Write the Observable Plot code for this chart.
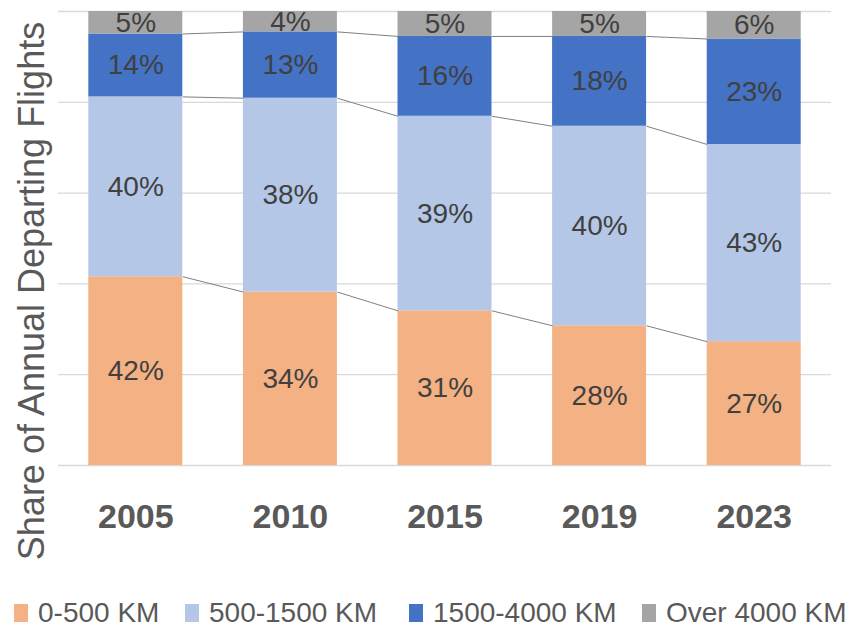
<!DOCTYPE html>
<html>
<head>
<meta charset="utf-8">
<script src="https://cdn.jsdelivr.net/npm/d3@7"></script>
<script src="https://cdn.jsdelivr.net/npm/@observablehq/plot@0.6"></script>
<style>
  body { margin: 0; background: #fff; font-family: "Liberation Sans", Arial, sans-serif; }
  #wrap { position: relative; width: 849px; height: 629px; overflow: hidden; }
  #ylabel { position: absolute; left: 32px; top: 291px; transform: translate(-50%, -50%) rotate(-90deg);
            white-space: nowrap; font-size: 36px; color: #595959; }
  #legend { position: absolute; top: 597px; left: 0; width: 849px; height: 30px; }
  .item { position: absolute; top: 0; display: flex; align-items: center; font-size: 28px; color: #595959; white-space: nowrap; }
  .sw { width: 14px; height: 18px; margin-right: 10px; }
</style>
</head>
<body>
<div id="wrap">
  <div id="chart"></div>
  <div id="ylabel">Share of Annual Departing Flights</div>
  <div id="legend"></div>
</div>
<script>
const years = ["2005", "2010", "2015", "2019", "2023"];
const series = ["0-500 KM", "500-1500 KM", "1500-4000 KM", "Over 4000 KM"];
const v0_500 = [42, 34, 31, 28, 27];
const v500_1500 = [40, 38, 39, 40, 43];
const v1500_4000 = [14, 13, 16, 18, 23];
const vOver4000 = [5, 4, 5, 5, 6];
const colors = ["#F4B183", "#B4C7E7", "#4472C4", "#A5A5A5"];
const legendLeft = [14, 185, 409, 642];

const values = [v0_500, v500_1500, v1500_4000, vOver4000];
const half = 0.304;

// build stacked, normalized segments
const segs = [];
years.forEach((yr, i) => {
  const total = values.reduce((s, arr) => s + arr[i], 0);
  let cum = 0;
  series.forEach((s, k) => {
    const v = values[k][i];
    const y1 = cum / total;
    cum += v;
    const y2 = cum / total;
    segs.push({ i, year: yr, series: s, k, value: v, y1, y2, x1: i - half, x2: i + half, ym: (y1 + y2) / 2 });
  });
});

// series connector lines (top of first three series)
const links = [];
for (let k = 0; k < 3; k++) {
  for (let i = 0; i < years.length - 1; i++) {
    const a = segs.find(d => d.i === i && d.k === k);
    const b = segs.find(d => d.i === i + 1 && d.k === k);
    links.push({ x1: a.x2, y1: a.y2, x2: b.x1, y2: b.y2 });
  }
}

const chart = Plot.plot({
  width: 849,
  height: 575,
  marginLeft: 58,
  marginRight: 18,
  marginTop: 11,
  marginBottom: 110,
  style: { fontFamily: "'Liberation Sans', Arial, sans-serif", background: "#fff" },
  x: { domain: [-0.5, years.length - 0.5], axis: null },
  y: { domain: [0, 1], axis: null },
  color: { domain: series, range: colors },
  marks: [
    Plot.gridY([0, 0.2, 0.4, 0.6, 0.8, 1], { stroke: "#D9D9D9", strokeOpacity: 1, strokeWidth: 1.3 }),
    Plot.rect(segs, { x1: "x1", x2: "x2", y1: "y1", y2: "y2", fill: "series" }),
    Plot.link(links, { x1: "x1", y1: "y1", x2: "x2", y2: "y2", stroke: "#7F7F7F", strokeWidth: 1 }),
    Plot.text(segs, { x: "i", y: "ym", text: d => d.value + "%", fill: "#404040", fontSize: 28 }),
    Plot.axisX(d3.range(years.length), {
      tickFormat: i => years[i], tickSize: 0, tickPadding: 38,
      fontSize: 34, fontWeight: "bold", fill: "#595959", label: null
    })
  ]
});
document.getElementById("chart").appendChild(chart);

const legend = document.getElementById("legend");
series.forEach((s, k) => {
  const it = document.createElement("div");
  it.className = "item";
  it.style.left = legendLeft[k] + "px";
  const sw = document.createElement("div");
  sw.className = "sw";
  sw.style.background = colors[k];
  const t = document.createElement("span");
  t.textContent = s;
  it.appendChild(sw);
  it.appendChild(t);
  legend.appendChild(it);
});
</script>
</body>
</html>
